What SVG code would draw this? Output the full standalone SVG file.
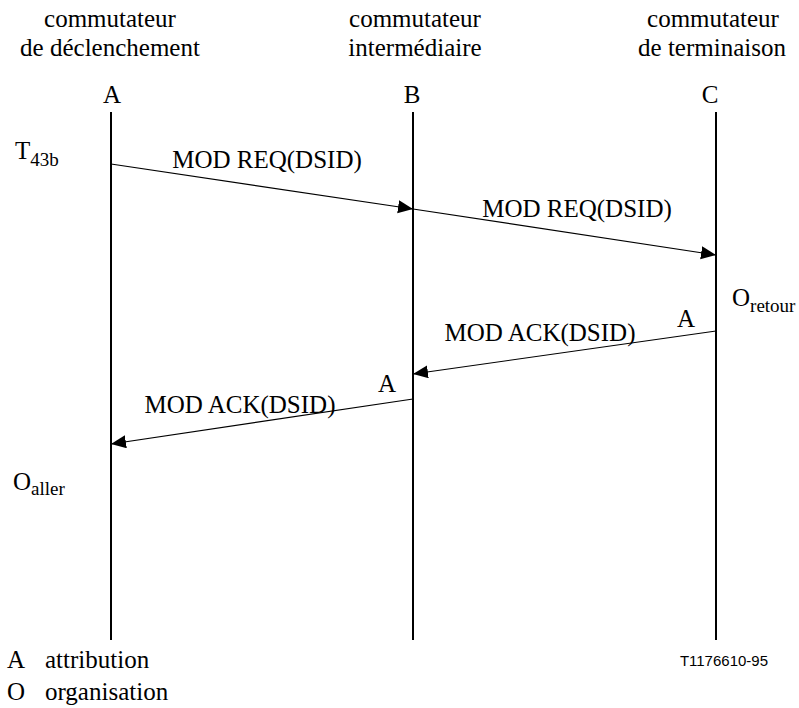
<svg xmlns="http://www.w3.org/2000/svg" width="799" height="708" viewBox="0 0 799 708">
  <style>
    .serif { font-family: 'Liberation Serif', 'Times New Roman', Times, serif; font-size: 25px; fill: #000; }
    .mid { text-anchor: middle; }
    .sub { font-size: 19px; }
    .ref { font-family: 'Liberation Sans', Arial, sans-serif; font-size: 15px; fill: #000; }
    .life { stroke: #000; stroke-width: 2; fill: none; }
    .msg { stroke: #000; stroke-width: 1.2; fill: none; marker-end: url(#head); }
  </style>
  <defs>
    <marker id="head" markerUnits="userSpaceOnUse" markerWidth="16" markerHeight="14" refX="15" refY="6.5" orient="auto">
      <path d="M0,0 L15,6.5 L0,13 z" fill="#000"/>
    </marker>
  </defs>
  <rect width="799" height="708" fill="#fff"/>

  <g class="serif" font-family="Liberation Serif, serif">
    <!-- exchanges and their lifelines -->
    <g id="exchange-A">
      <text class="mid" x="110" y="27">commutateur</text>
      <text class="mid" x="110" y="56">de déclenchement</text>
      <text class="mid" x="112" y="103">A</text>
      <line class="life" x1="111" y1="112" x2="111" y2="640"/>
    </g>
    <g id="exchange-B">
      <text class="mid" x="415" y="27">commutateur</text>
      <text class="mid" x="415" y="56">intermédiaire</text>
      <text class="mid" x="412" y="103">B</text>
      <line class="life" x1="413" y1="112" x2="413" y2="640"/>
    </g>
    <g id="exchange-C">
      <text class="mid" x="713" y="27">commutateur</text>
      <text class="mid" x="712" y="56">de terminaison</text>
      <text class="mid" x="710" y="103">C</text>
      <line class="life" x1="716" y1="112" x2="716" y2="640"/>
    </g>

    <!-- timer / state annotations -->
    <g id="timer-T43b">
      <text x="15" y="159">T<tspan class="sub" dy="7">43b</tspan></text>
    </g>
    <g id="state-O-retour">
      <text x="732" y="306">O<tspan class="sub" dy="6">retour</tspan></text>
    </g>
    <g id="state-O-aller">
      <text x="13" y="490">O<tspan class="sub" dy="5">aller</tspan></text>
    </g>
    <g id="alloc-C">
      <text x="677" y="327">A</text>
    </g>
    <g id="alloc-B">
      <text x="378" y="392">A</text>
    </g>

    <!-- messages -->
    <g id="connectors">
      <line class="msg" x1="111" y1="164" x2="413" y2="209"/>
      <line class="msg" x1="413" y1="209" x2="716" y2="255"/>
      <line class="msg" x1="716" y1="331" x2="413" y2="374"/>
      <line class="msg" x1="413" y1="399" x2="111" y2="444"/>
    </g>
    <g id="labels">
      <text class="mid" x="267" y="168">MOD REQ(DSID)</text>
      <text class="mid" x="577" y="217">MOD REQ(DSID)</text>
      <text class="mid" x="540" y="341">MOD ACK(DSID)</text>
      <text class="mid" x="240" y="413">MOD ACK(DSID)</text>
    </g>

    <!-- legend -->
    <g id="legend">
      <text x="7" y="668">A</text>
      <text x="45" y="668">attribution</text>
      <text x="7" y="700">O</text>
      <text x="45" y="700">organisation</text>
    </g>
  </g>
  <text class="ref" x="768" y="666" text-anchor="end">T1176610-95</text>
</svg>
